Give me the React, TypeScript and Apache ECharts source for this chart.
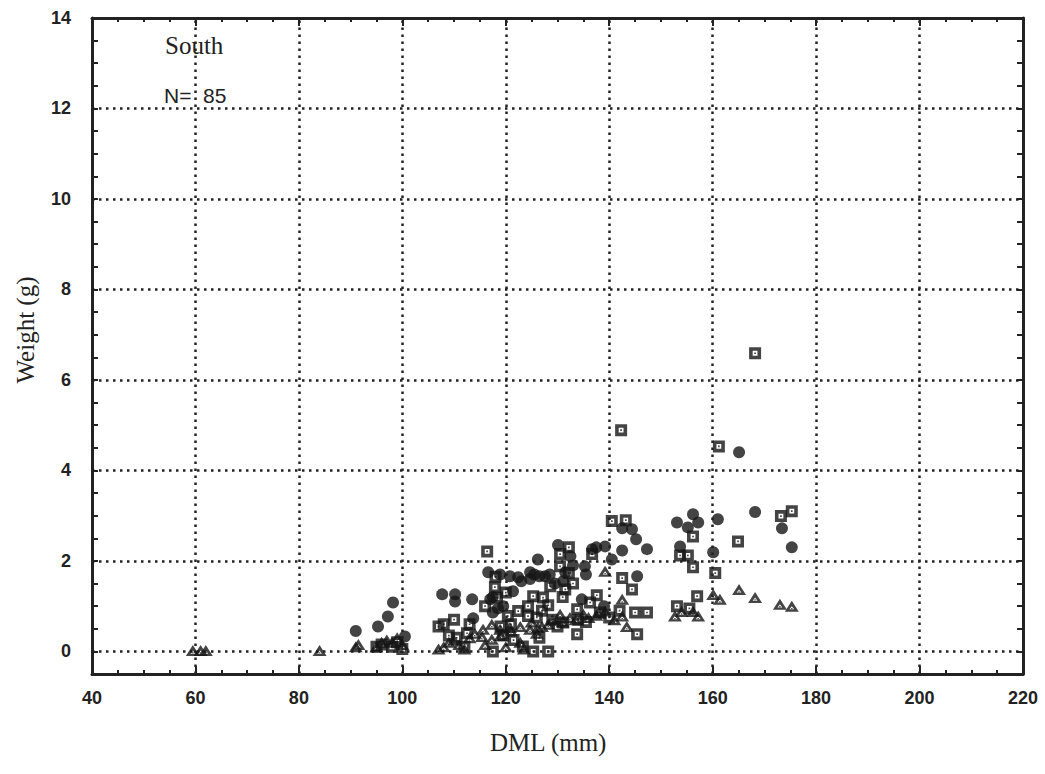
import React, { useEffect, useRef } from "react";
import * as echarts from "echarts";

const xTicks = [40, 60, 80, 100, 120, 140, 160, 180, 200, 220];
const yTicks = [0, 2, 4, 6, 8, 10, 12, 14];

const circles: number[][] = [
  [91, 0.45], [95.3, 0.55], [97.2, 0.77], [98.2, 1.08], [100.5, 0.33],
  [107.7, 1.26], [110.2, 1.26], [110.2, 1.1], [113.5, 1.15], [113.7, 0.73],
  [116.6, 1.75], [117, 1.15], [117.5, 0.86], [118.5, 0.95], [118.9, 1.7],
  [120.8, 1.66], [121.4, 1.33], [122.4, 1.64], [124.7, 1.6], [124.7, 1.75],
  [126.2, 2.03], [126.5, 1.66], [127.6, 1.66], [130.1, 2.35], [131.1, 1.55],
  [131.5, 1.75], [134.7, 1.15], [135.3, 1.88], [136.7, 2.26], [139.2, 2.32],
  [140.5, 2.03], [142.5, 2.23], [142.5, 2.72], [144.4, 2.7], [145.2, 2.48],
  [147.3, 2.26], [145.4, 1.66], [153.1, 2.85], [153.7, 2.32], [155.2, 2.74],
  [156.2, 3.03], [157.2, 2.85], [160.1, 2.19], [161, 2.92], [165.1, 4.4],
  [168.2, 3.08], [173.4, 2.72], [175.3, 2.3],
  [117.5, 1.2], [119.5, 1.0], [123, 1.55], [125.5, 1.7], [128.5, 1.7],
  [129.5, 1.5], [133, 1.9], [132.5, 2.1], [137.5, 2.3], [135.5, 1.7], [139, 1.0],
];

const squares: number[][] = [
  [95, 0.1], [96, 0.15], [98, 0.1], [99, 0.2], [100, 0.05],
  [107, 0.55], [108, 0.6], [109, 0.35], [110, 0.7], [110.5, 0.3], [112, 0.1],
  [116.4, 2.21], [116, 1.0], [117.9, 1.42], [118.3, 1.19], [117.5, 0.0],
  [120.4, 0.78], [122.4, 0.89], [123.3, 0.11], [124.3, 1.0], [124.3, 0.78],
  [125.3, 1.22], [125.3, 0.0], [127.2, 1.19], [128.2, 1.02], [128.2, 0.0],
  [128.6, 1.44], [130.5, 2.15], [130.5, 1.88], [131.1, 0.64], [131.5, 1.37],
  [132.2, 2.3], [132.2, 1.73], [133.8, 0.93], [133.8, 0.38], [136.3, 1.08],
  [136.7, 2.15], [137.6, 1.24], [138.2, 0.86], [140.5, 2.88], [142.3, 4.89],
  [142.5, 1.62], [143.2, 2.9], [144.4, 1.37], [145, 0.86], [145.4, 0.38],
  [147.3, 0.86], [153.1, 1.0], [153.7, 2.12], [155.2, 2.12], [155.5, 0.95],
  [156.2, 2.54], [156.2, 1.86], [157, 1.22], [160.5, 1.73], [161.2, 4.53],
  [164.9, 2.43], [168.2, 6.59], [173.2, 2.99], [175.3, 3.1],
  [119, 0.55], [121, 0.6], [126, 0.75], [129, 0.7], [130, 0.55], [134, 0.7],
  [135.5, 0.65], [127, 0.9], [119.5, 0.35], [121.5, 0.25], [126.5, 0.3],
  [112.5, 0.4], [113, 0.6], [140, 0.75], [142, 0.9], [131, 1.2], [133, 1.5],
  [118, 1.65], [120, 1.3],
];

const triangles: number[][] = [
  [59.5, 0.02], [61, 0.02], [62, 0.02], [84, 0.02], [91, 0.1], [91.5, 0.15],
  [95, 0.1], [96, 0.2], [97, 0.25], [98, 0.2], [99, 0.3], [100, 0.15],
  [107, 0.05], [108, 0.1], [109, 0.2], [110, 0.25], [112, 0.05], [113, 0.3],
  [114, 0.4], [115.4, 0.33], [115.6, 0.49], [117.3, 0.27], [117.3, 0.6],
  [118.9, 0.49], [120.8, 0.53], [122.8, 0.2], [122.8, 0.55], [124.7, 0.49],
  [126.2, 0.53], [128.2, 0.6], [130.5, 0.82], [132.4, 0.75], [135, 0.82],
  [137.5, 0.8], [139.2, 0.89], [139.2, 1.77], [142.5, 0.78], [142.5, 1.15],
  [143.4, 0.55], [152.7, 0.78], [154, 0.88], [156.2, 0.88], [157.2, 0.78],
  [160.1, 1.26], [161.4, 1.15], [165.1, 1.37], [168.2, 1.19], [173, 1.04],
  [175.3, 1.0],
  [119, 0.35], [121, 0.45], [125, 0.65], [127, 0.55], [129, 0.7], [131, 0.65],
  [133.5, 0.7], [136, 0.75], [138, 0.85], [141, 0.7], [116, 0.15], [120, 0.1],
  [123.5, 0.05], [126, 0.4], [111, 0.15],
];

const SQUARE =
  "path://M0,0L10,0L10,10L0,10Z M3,3L3,7L7,7L7,3Z M4.3,4.3L5.7,4.3L5.7,5.7L4.3,5.7Z";
const TRIANGLE =
  "path://M5,0L10,8.6L0,8.6Z M5,4.3L3.3,6.8L6.7,6.8Z M4.5,5.7L5.5,5.7L5.5,6.5L4.5,6.5Z";

const tickFont = {
  fontFamily: "Liberation Sans, Arial, sans-serif",
  fontWeight: "bold" as const,
  fontSize: 18,
  color: "#222",
};

export default function App() {
  const ref = useRef<HTMLDivElement>(null);
  useEffect(() => {
    if (!ref.current) return;
    const chart = echarts.init(ref.current, undefined, { renderer: "svg" });
    const gridLineStyle = { color: "#222", type: [2.5, 4.5] as any, width: 2.5 };
    const markLines = [
      ...xTicks.filter((v) => v > xTicks[0] && v < xTicks[xTicks.length - 1]).map((v) => ({ xAxis: v })),
      ...yTicks.filter((v) => v < yTicks[yTicks.length - 1]).map((v) => ({ yAxis: v })),
    ];
    const xBase = {
      type: "value" as const,
      min: 40,
      max: 220,
      interval: 20,
      axisLine: { show: true, onZero: false, lineStyle: { color: "#222", width: 3 } },
      axisTick: { show: true, inside: true, length: 8, lineStyle: { color: "#222", width: 2 } },
      minorTick: { show: true, splitNumber: 4, length: 4, lineStyle: { color: "#222", width: 2 } },
      splitLine: { show: false },
    };
    const yBase = {
      type: "value" as const,
      min: -0.5,
      max: 14,
      interval: 0.5,
      axisLine: { show: true, onZero: false, lineStyle: { color: "#222", width: 3 } },
      axisTick: { show: true, inside: true, length: 6, lineStyle: { color: "#222", width: 2 } },
      splitLine: { show: false },
    };
    chart.setOption({
      animation: false,
      backgroundColor: "#fff",
      grid: { left: 92, right: 22, top: 18, bottom: 100 },
      xAxis: [
        {
          ...xBase,
          position: "bottom",
          axisLabel: { ...tickFont, margin: 15 },
        },
        { ...xBase, position: "top", axisLabel: { show: false } },
      ],
      yAxis: [
        {
          ...yBase,
          position: "left",
          axisLabel: {
            ...tickFont,
            margin: 21,
            formatter: (v: number) => (yTicks.includes(v) ? String(v) : ""),
          },
        },
        { ...yBase, position: "right", axisLabel: { show: false } },
      ],
      graphic: [
        {
          type: "text",
          left: 165,
          top: 33,
          style: { text: "South", font: "25px 'Liberation Serif', 'Times New Roman', serif", fill: "#222" },
        },
        {
          type: "text",
          left: 164,
          top: 85,
          style: { text: "N=  85", font: "21px 'Liberation Sans', Arial, sans-serif", fill: "#222" },
        },
        {
          type: "text",
          left: 490,
          top: 730,
          style: { text: "DML (mm)", font: "25px 'Liberation Serif', 'Times New Roman', serif", fill: "#222" },
        },
        {
          type: "text",
          x: 25,
          y: 330,
          rotation: Math.PI / 2,
          style: {
            text: "Weight (g)",
            font: "25px 'Liberation Serif', 'Times New Roman', serif",
            fill: "#222",
            align: "center",
            verticalAlign: "middle",
          },
        },
      ],
      series: [
        {
          name: "grid",
          type: "scatter",
          data: [],
          markLine: {
            silent: true,
            symbol: "none",
            label: { show: false },
            lineStyle: gridLineStyle,
            data: markLines,
          },
        },
        {
          name: "circles",
          type: "scatter",
          symbol: "circle",
          symbolSize: 12,
          itemStyle: { color: "#151515" },
          data: circles,
          z: 3,
        },
        {
          name: "squares",
          type: "scatter",
          symbol: SQUARE,
          symbolSize: 12,
          itemStyle: { color: "#151515" },
          data: squares,
          z: 4,
        },
        {
          name: "triangles",
          type: "scatter",
          symbol: TRIANGLE,
          symbolSize: [14, 11],
          itemStyle: { color: "#151515" },
          data: triangles,
          z: 5,
        },
      ],
    });
    return () => chart.dispose();
  }, []);
  return (
    <div
      ref={ref}
      style={{ position: "fixed", left: 0, top: 0, width: 1045, height: 774, background: "#fff" }}
    />
  );
}
